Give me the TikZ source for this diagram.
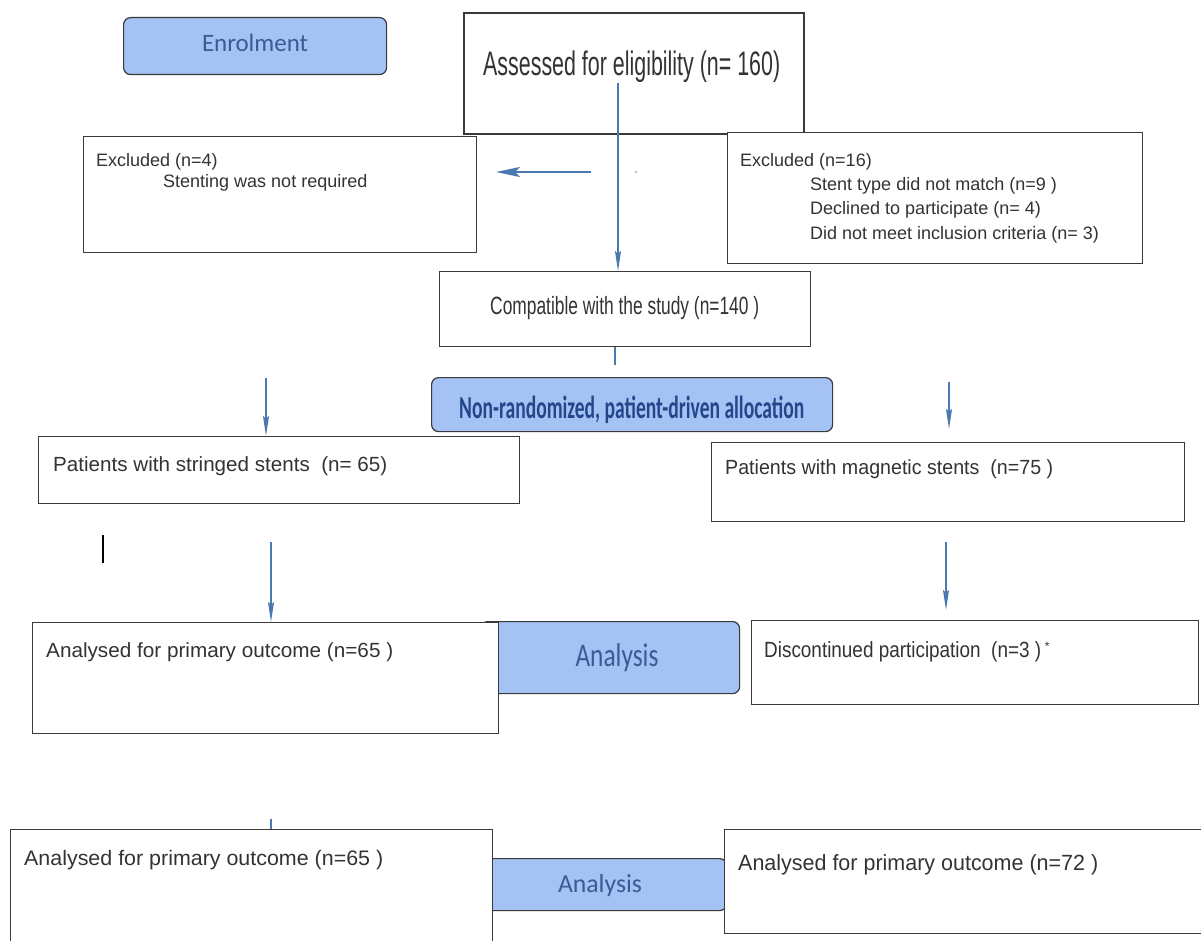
\documentclass[tikz,border=0pt]{standalone}
\usepackage{fontspec}
\setmainfont{Liberation Sans}
\newfontfamily\calfont{Carlito}
\usetikzlibrary{arrows.meta}
\definecolor{boxline}{HTML}{3A3A3A}
\definecolor{txt}{HTML}{333333}
\definecolor{arr}{HTML}{4A78B0}
\definecolor{bfill}{HTML}{A4C2F4}
\definecolor{btxt}{HTML}{3C5A93}
\definecolor{btxtd}{HTML}{24468A}
\newcommand\fitx[2]{\resizebox{#1}{\height}{#2}}
\newcommand\fs[1]{\fontsize{#1}{#1}\selectfont}
\begin{document}
\begin{tikzpicture}[x=1pt,y=-1pt,
  wbox/.style={draw=boxline, line width=1.3pt, fill=white, inner sep=0pt, anchor=north west},
  bbox/.style={draw=boxline, line width=1.2pt, fill=bfill, rounded corners=7pt, inner sep=0pt, anchor=north west},
  lbl/.style={anchor=base west, inner sep=0pt, text=txt},
  clbl/.style={anchor=base, inner sep=0pt, text=btxt},
  conn/.style={draw=arr, line width=1.9pt, -{Stealth[length=20pt,width=6pt,inset=3pt]}},
  stub/.style={draw=arr, line width=2.4pt},
]
\useasboundingbox (0,0) rectangle (1201,941);
\fill[white] (0,0) rectangle (1201,941);

% blue header boxes
\node[bbox, minimum width=263pt, minimum height=57pt] (enrol) at (123,17) {};
\node[bbox, minimum width=401pt, minimum height=54pt] (alloc) at (431,377) {};
\node[bbox, minimum width=259pt, minimum height=72pt] (anblue1) at (480,621) {};
\node[bbox, minimum width=246pt, minimum height=52pt] (anblue2) at (480,858) {};

% white boxes
\node[wbox, line width=1.8pt, minimum width=340pt, minimum height=121pt] (assess) at (463,12) {};
\node[wbox, minimum width=393pt, minimum height=116pt] (exl) at (83,136) {};
\node[wbox, minimum width=415pt, minimum height=131pt] (exr) at (727,132) {};
\node[wbox, minimum width=371pt, minimum height=75pt] (compat) at (439,271) {};
\node[wbox, minimum width=481pt, minimum height=67pt] (pstr) at (38,436) {};
\node[wbox, minimum width=473pt, minimum height=79pt] (pmag) at (711,442) {};
\node[wbox, minimum width=466pt, minimum height=111pt] (ana1) at (32,622) {};
\node[wbox, minimum width=447pt, minimum height=84pt] (disc) at (751,620) {};
\node[wbox, minimum width=482pt, minimum height=140pt] (ana2l) at (10,829) {};
\node[wbox, minimum width=500pt, minimum height=104pt] (ana2r) at (724,829) {};

% texts
\node[clbl] (tenrol) at (255,52) {\calfont\fs{25}\fitx{106pt}{Enrolment}};
\node[lbl] (tassess) at (483,76) {\fs{34}\fitx{297pt}{Assessed for eligibility (n= 160)}};
\node[lbl, font=\fs{18}] (texl1) at (96,167) {Excluded (n=4)};
\node[lbl, font=\fs{18}] (texl2) at (163,188) {Stenting was not required};
\node[lbl, font=\fs{18}] (texr1) at (740,167) {Excluded (n=16)};
\node[lbl, font=\fs{18}] (texr2) at (810,191) {Stent type did not match (n=9 )};
\node[lbl, font=\fs{18}] (texr3) at (810,215) {Declined to participate (n= 4)};
\node[lbl, font=\fs{18}] (texr4) at (810,240) {Did not meet inclusion criteria (n= 3)};
\node[lbl] (tcompat) at (490,314) {\fs{25}\fitx{269pt}{Compatible with the study (n=140 )}};
\node[anchor=base west, inner sep=0pt, text=btxtd] (talloc) at (459,418) {\calfont\bfseries\fs{32}\fitx{345pt}{Non-randomized, patient-driven allocation}};
\node[lbl] (tpstr) at (53,471) {\fs{20.5}\fitx{334pt}{Patients with stringed stents\ \ (n= 65)}};
\node[lbl] (tpmag) at (725,474) {\fs{20.5}\fitx{328pt}{Patients with magnetic stents\ \ (n=75 )}};
\node[lbl] (tana1) at (46,657) {\fs{20.5}\fitx{347pt}{Analysed for primary outcome (n=65 )}};
\node[clbl] (tanb1) at (617,666) {\calfont\fs{33}\fitx{83pt}{Analysis}};
\node[lbl] (tdisc) at (764,657) {\fs{22}\fitx{277pt}{Discontinued participation\ \ (n=3 )}\,\raisebox{7pt}{\fs{12}*}};
\node[lbl] (tana2l) at (24,865) {\fs{21}\fitx{359pt}{Analysed for primary outcome (n=65 )}};
\node[clbl] (tanb2) at (600,892) {\calfont\fs{26}\fitx{84pt}{Analysis}};
\node[lbl] (tana2r) at (738,870) {\fs{22}\fitx{360pt}{Analysed for primary outcome (n=72 )}};

% connectors
\coordinate (a1s) at (618,83);
\draw[conn] (a1s) -- (a1s |- compat.north);
\coordinate (a2s) at (591,172);
\coordinate (a2e) at (496,172);
\draw[conn, -{Stealth[length=24pt,width=10pt,inset=5pt]}] (a2s) -- (a2e);
\fill[arr!70] (636,172) circle (1pt);
\coordinate (a3s) at (615,365);
\draw[stub] (a3s |- compat.south) -- (a3s);
\coordinate (a4s) at (266,378);
\draw[conn] (a4s) -- (a4s |- pstr.north);
\coordinate (a5s) at (949,382);
\coordinate (a5e) at (949,429);
\draw[conn] (a5s) -- (a5e);
\coordinate (a6s) at (271,542);
\draw[conn] (a6s) -- (a6s |- ana1.north);
\coordinate (a7s) at (946,542);
\coordinate (a7e) at (946,610);
\draw[conn] (a7s) -- (a7e);
\coordinate (a8s) at (271,819);
\draw[draw=arr, line width=1.2pt] (a8s) -- (a8s |- ana2l.north);
\coordinate (bar1) at (103,535);
\coordinate (bar2) at (103,563);
\draw[black, line width=2.6pt] (bar1) -- (bar2);
\end{tikzpicture}
\end{document}
